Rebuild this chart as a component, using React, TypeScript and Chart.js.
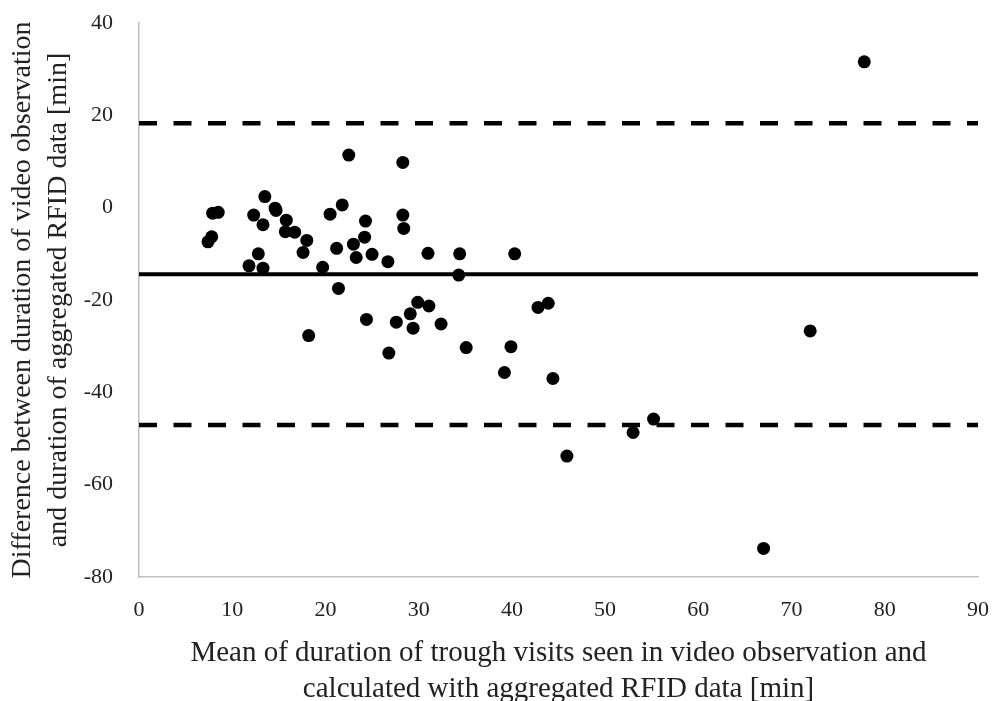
import React, { useEffect, useRef } from "react";
import { Chart, registerables } from "chart.js";

Chart.register(...registerables);

// Mean of the two measures [min]
const meanValues: number[] = [
  7.8, 7.4, 7.9, 8.5, 12.3, 13.5, 14.6, 14.7, 13.3, 15.8,
  15.7, 16.7, 18.0, 17.6, 12.8, 11.8, 13.3, 19.7, 21.4, 22.5,
  21.8, 20.5, 24.3, 24.2, 23.0, 21.2, 23.3, 25.0, 28.3, 28.3,
  28.4, 26.7, 31.0, 34.4, 34.3, 18.2, 24.4, 29.9, 31.1, 29.1,
  27.6, 29.4, 32.4, 26.8, 35.1, 40.3, 42.8, 43.9, 39.9, 39.2,
  44.4, 45.9, 53.0, 55.2, 67.0, 72.0, 77.8,
];
// Difference video - RFID [min]
const diffValues: number[] = [
  -6.3, -7.4, -1.2, -1.0, -1.6, 2.4, -0.1, -0.6, -3.7, -2.7,
  -5.2, -5.3, -7.1, -9.7, -10.0, -12.6, -13.1, -12.9, -17.5, 11.4,
  0.6, -1.4, -2.9, -6.4, -7.9, -8.8, -10.8, -10.1, 9.8, -1.6,
  -4.5, -11.7, -9.9, -10.0, -14.6, -27.7, -24.2, -20.5, -21.3, -23.0,
  -24.8, -26.1, -25.2, -31.5, -30.3, -10.0, -21.6, -20.7, -30.1, -35.7,
  -37.0, -53.8, -48.7, -45.8, -73.8, -26.7, 31.6,
];

const meanDiff = -14.4;
const upperLimit = 18.3;
const lowerLimit = -47.1;

const xRange: number[] = [0, 90];
const yRange: number[] = [-80, 40];
const xStep = 10;
const yStep = 20;

const xTitle: string[] = [
  "Mean of duration of trough visits seen in video observation and",
  "calculated with aggregated RFID data [min]",
];
const yTitle: string[] = [
  "Difference between duration of video observation",
  "and duration of aggregated RFID data [min]",
];

const FONT = "'Liberation Serif', 'Times New Roman', serif";
const TEXT = "#222222";
const AXIS = "#bfbfbf";

export default function App() {
  const ref = useRef<HTMLCanvasElement | null>(null);

  useEffect(() => {
    if (!ref.current) return;
    const points = meanValues.map((x, i) => ({ x, y: diffValues[i] }));
    const hline = (y: number) => [
      { x: xRange[0], y },
      { x: xRange[1], y },
    ];
    const chart = new Chart(ref.current, {
      type: "scatter",
      data: {
        datasets: [
          {
            label: "Visits",
            data: points,
            backgroundColor: "#000000",
            borderColor: "#000000",
            pointRadius: 6.5,
            pointBorderWidth: 0,
            order: 0,
          },
          {
            label: "Mean",
            data: hline(meanDiff),
            showLine: true,
            borderColor: "#000000",
            borderWidth: 4,
            pointRadius: 0,
            order: 1,
          },
          {
            label: "Upper",
            data: hline(upperLimit),
            showLine: true,
            borderColor: "#000000",
            borderWidth: 4.5,
            borderDash: [18, 16.5],
            pointRadius: 0,
            order: 1,
          },
          {
            label: "Lower",
            data: hline(lowerLimit),
            showLine: true,
            borderColor: "#000000",
            borderWidth: 4.5,
            borderDash: [18, 16.5],
            pointRadius: 0,
            order: 1,
          },
        ],
      },
      options: {
        responsive: false,
        animation: false,
        devicePixelRatio: 1,
        layout: { padding: { top: 23, right: 17, left: 0, bottom: 0 } },
        plugins: {
          legend: { display: false },
          tooltip: { enabled: false },
        },
        scales: {
          x: {
            type: "linear",
            min: xRange[0],
            max: xRange[1],
            ticks: {
              stepSize: xStep,
              padding: 20,
              color: TEXT,
              font: { family: FONT, size: 22 },
            },
            grid: { display: false, drawTicks: false },
            border: { display: true, color: AXIS, width: 1.5 },
            title: {
              display: true,
              text: xTitle,
              color: TEXT,
              font: { family: FONT, size: 29, lineHeight: 36 / 29 },
              padding: { top: 0, bottom: -6 },
            },
            afterFit: (s: any) => {
              s.height = 124;
              s.paddingLeft = 0;
              s.paddingRight = 0;
            },
          },
          y: {
            type: "linear",
            min: yRange[0],
            max: yRange[1],
            ticks: {
              stepSize: yStep,
              padding: 26,
              color: TEXT,
              font: { family: FONT, size: 22 },
            },
            grid: { display: false, drawTicks: false },
            border: { display: true, color: AXIS, width: 1.5 },
            title: {
              display: true,
              text: yTitle,
              color: TEXT,
              font: { family: FONT, size: 28, lineHeight: 36 / 28 },
              padding: { top: 5, bottom: 0 },
            },
            afterFit: (s: any) => {
              s.width = 139;
              s.paddingTop = 0;
              s.paddingBottom = 0;
            },
          },
        },
      },
    } as any);
    return () => chart.destroy();
  }, []);

  return (
    <div style={{ position: "absolute", left: 0, top: 0, width: 995, height: 701, background: "#ffffff" }}>
      <canvas ref={ref} width={995} height={701} />
    </div>
  );
}
